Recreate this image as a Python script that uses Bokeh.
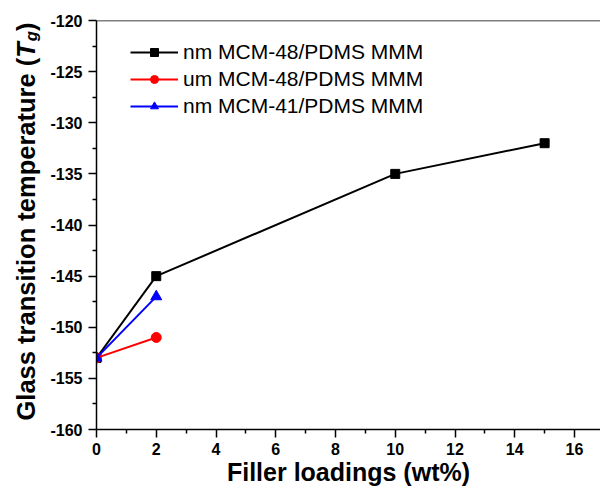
from bokeh.plotting import figure
from bokeh.layouts import row
from bokeh.models import Span, FixedTicker, Range1d
from bokeh.core.properties import value
from bokeh.embed import file_html
from bokeh.resources import INLINE
import math

# ---- data ----
nm48_x = [0, 2, 10, 15]
nm48_y = [-153, -145, -135, -132]
um48_x = [0, 2]
um48_y = [-153, -151]
nm41_x = [0, 2]
nm41_y = [-153, -147]

x_major = [0, 2, 4, 6, 8, 10, 12, 14, 16]
x_minor = [1, 3, 5, 7, 9, 11, 13, 15]
y_major = [-160, -155, -150, -145, -140, -135, -130, -125, -120]
y_minor = [-157.5, -152.5, -147.5, -142.5, -137.5, -132.5, -127.5, -122.5]

x_title = "Filler loadings (wt%)"
y_title_main = "Glass transition temperature ("
y_title_T = "T"
y_title_g = "g"
y_title_end = ")"

FONT = "Liberation Sans"
TW = 46   # width of the strip holding the rotated y title
H = 497
TOP = 20
BOTTOM = 68

# ---- main plot ----
p = figure(width=600 - TW, height=H, output_backend="svg", toolbar_location=None,
           x_range=Range1d(0, 16.87), y_range=Range1d(-160, -120),
           min_border_left=96 - TW, min_border_right=0, min_border_top=TOP,
           min_border_bottom=BOTTOM)
p.outline_line_color = None
p.xgrid.grid_line_color = None
p.ygrid.grid_line_color = None

p.xaxis.ticker = FixedTicker(ticks=x_major, minor_ticks=x_minor)
p.yaxis.ticker = FixedTicker(ticks=y_major, minor_ticks=y_minor)
p.yaxis.major_label_overrides = {v: str(v) for v in y_major}
p.xaxis.major_label_overrides = {v: str(v) for v in x_major}
for ax in (p.xaxis[0], p.yaxis[0]):
    ax.axis_line_width = 1.5
    ax.axis_line_color = "black"
    ax.major_tick_line_width = 1.5
    ax.minor_tick_line_width = 1.5
    ax.major_tick_out = 8
    ax.major_tick_in = 0
    ax.minor_tick_out = 4
    ax.minor_tick_in = 0
    ax.major_label_text_font = FONT
    ax.major_label_text_font_style = "bold"
    ax.major_label_text_font_size = "16px"
    ax.major_label_text_color = "black"
p.yaxis.major_label_standoff = 6
p.xaxis.major_label_standoff = 5
p.xaxis.axis_label = x_title
p.xaxis.axis_label_text_font = FONT
p.xaxis.axis_label_text_font_style = "bold"
p.xaxis.axis_label_text_font_size = "25px"
p.xaxis.axis_label_text_color = "black"
p.xaxis.axis_label_standoff = 0

# top frame line
p.add_layout(Span(location=-120, dimension="width", line_color="black", line_width=1.5))

# series
p.line(nm48_x, nm48_y, line_color="black", line_width=2, legend_label="nm MCM-48/PDMS MMM")
p.scatter(nm48_x, nm48_y, marker="square", size=9, color="black", legend_label="nm MCM-48/PDMS MMM")
p.line(um48_x, um48_y, line_color="red", line_width=2, legend_label="um MCM-48/PDMS MMM")
p.scatter(um48_x, um48_y, marker="circle", size=10, color="red", legend_label="um MCM-48/PDMS MMM")
p.line(nm41_x, nm41_y, line_color="blue", line_width=2, legend_label="nm MCM-41/PDMS MMM")
p.scatter(nm41_x, nm41_y, marker="triangle", size=11, color="blue", legend_label="nm MCM-41/PDMS MMM")

lg = p.legend[0]
lg.location = (34, 311)
lg.label_text_font = FONT
lg.label_text_font_size = "21px"
lg.label_text_color = "black"
lg.glyph_width = 48
lg.glyph_height = 20
lg.label_standoff = 5
lg.spacing = 3
lg.padding = 0
lg.margin = 0
lg.border_line_color = None
lg.background_fill_alpha = 0

# ---- strip with the rotated y title; its frame matches the main frame vertically ----
FH = H - TOP - BOTTOM   # frame height in px
t = figure(width=TW, height=H, output_backend="svg", toolbar_location=None,
           x_range=Range1d(0, TW), y_range=Range1d(0, FH),
           min_border_left=0, min_border_right=0, min_border_top=TOP,
           min_border_bottom=BOTTOM, x_axis_location=None, y_axis_location=None)
t.outline_line_color = None
t.xgrid.grid_line_color = None
t.ygrid.grid_line_color = None

A = math.pi / 2
fs = 25.5
fsg = 16.5
xb = 25                      # anchor x (rendered baseline ends up near page x 35)
y0 = (H - BOTTOM) - 420      # text starts at page y 420
yT = y0 + 14.226 * fs
yg = yT + 0.611 * fs + 1
yc = yg + 0.611 * fsg

t.text(x=[xb], y=[y0], text=[y_title_main], angle=A, text_font=value(FONT),
       text_font_style="bold", text_font_size=f"{fs}px", text_align="left",
       text_baseline="alphabetic", text_color="black")
t.text(x=[xb], y=[yT], text=[y_title_T], angle=A, text_font=value(FONT),
       text_font_style="bold italic", text_font_size=f"{fs}px", text_align="left",
       text_baseline="alphabetic", text_color="black")
t.text(x=[xb + 5], y=[yg], text=[y_title_g], angle=A, text_font=value(FONT),
       text_font_style="bold italic", text_font_size=f"{fsg}px", text_align="left",
       text_baseline="alphabetic", text_color="black")
t.text(x=[xb], y=[yc], text=[y_title_end], angle=A, text_font=value(FONT),
       text_font_style="bold", text_font_size=f"{fs}px", text_align="left",
       text_baseline="alphabetic", text_color="black")

layout = row(t, p, spacing=0)
open("out.html", "w").write(file_html(layout, INLINE))
